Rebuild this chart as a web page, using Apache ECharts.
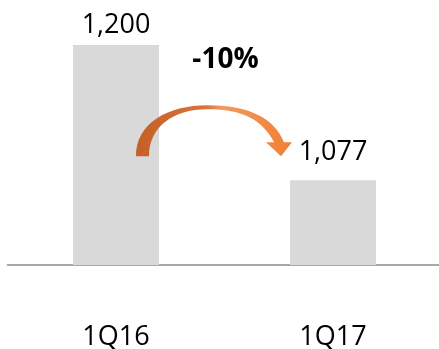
<!DOCTYPE html>
<html>
<head>
<meta charset="utf-8">
<script src="https://cdn.jsdelivr.net/npm/echarts@6/dist/echarts.min.js"></script>
<style>
  html, body { margin: 0; padding: 0; background: #fff; }
  #chart { width: 439px; height: 349px; }
</style>
</head>
<body>
<div id="chart"></div>
<script>
// Quarterly totals
const categories = ['1Q16', '1Q17'];
const values = [1200, 1077];
const changeLabel = '-10%';

const FONT = '"Open Sans", "Liberation Sans", sans-serif';
const chart = echarts.init(document.getElementById('chart'));

const labelDistances = [6, 14];

// Curved arrow from the first bar to the second, with the change label above it
function renderArrow(params, api) {
  const p1 = api.coord([0, values[0]]);
  const p2 = api.coord([1, values[1]]);
  const baseY = p2[1] - 24;          // level of the arrow's foot and tip
  const peakY = baseY - 51;          // top of the arc
  const midX = (p1[0] + p2[0]) / 2;

  const sx0 = p1[0] + 20, sx1 = p1[0] + 33;    // foot outer / inner
  const tipX = p2[0] - 52;
  const headL = tipX - 15, headR = tipX + 11, headY = baseY - 14;
  const neckOut = tipX + 3, neckIn = tipX - 7;
  const peakX = midX - 17;

  const d = [
    'M', sx0, baseY,
    'C', sx0, peakY + 18, peakX - 40, peakY, peakX, peakY,
    'C', peakX + 40, peakY, neckOut - 10, peakY + 12, neckOut, headY,
    'L', headR, headY,
    'L', tipX, baseY,
    'L', headL, headY,
    'L', neckIn, headY,
    'C', neckIn - 12, peakY + 14, peakX + 35, peakY + 4, peakX, peakY + 4,
    'C', peakX - 35, peakY + 4, sx1, peakY + 22, sx1, baseY,
    'Z'
  ].join(' ');

  return {
    type: 'group',
    children: [
      {
        type: 'path',
        shape: { pathData: d },
        style: {
          fill: {
            type: 'linear', x: 0, y: 0, x2: 1, y2: 0,
            colorStops: [
              { offset: 0, color: '#c45f28' },
              { offset: 0.45, color: '#d9743a' },
              { offset: 0.55, color: '#f19a62' },
              { offset: 1, color: '#f08034' }
            ]
          }
        }
      },
      {
        type: 'text',
        x: midX + 1,
        y: 60,
        style: {
          text: changeLabel,
          fontSize: 28,
          fontWeight: 'bold',
          fontFamily: FONT,
          fill: '#000',
          align: 'center',
          verticalAlign: 'middle'
        }
      }
    ]
  };
}

chart.setOption({
  animation: false,
  grid: { left: 7.5, right: -2.5, top: 45, bottom: 84, outerBoundsMode: 'none', containLabel: false },
  xAxis: {
    type: 'category',
    data: categories,
    axisLine: { lineStyle: { color: '#8c8c8c', width: 1.5 } },
    axisTick: { show: false },
    axisLabel: { margin: 59, fontSize: 27, color: '#000', fontFamily: FONT }
  },
  yAxis: {
    type: 'value',
    min: 1000,
    max: 1200,
    show: false,
    splitLine: { show: false }
  },
  series: [
    {
      type: 'bar',
      barWidth: 86,
      itemStyle: { color: '#d9d9d9' },
      data: values.map((v, i) => ({
        value: v,
        label: {
          show: true,
          position: 'top',
          distance: labelDistances[i],
          fontSize: 27,
          color: '#000',
          fontFamily: FONT,
          formatter: p => p.value.toLocaleString('en-US')
        }
      }))
    },
    {
      type: 'custom',
      renderItem: renderArrow,
      data: [[0, values[0]]],
      z: 3,
      silent: true
    }
  ]
});
</script>
</body>
</html>
